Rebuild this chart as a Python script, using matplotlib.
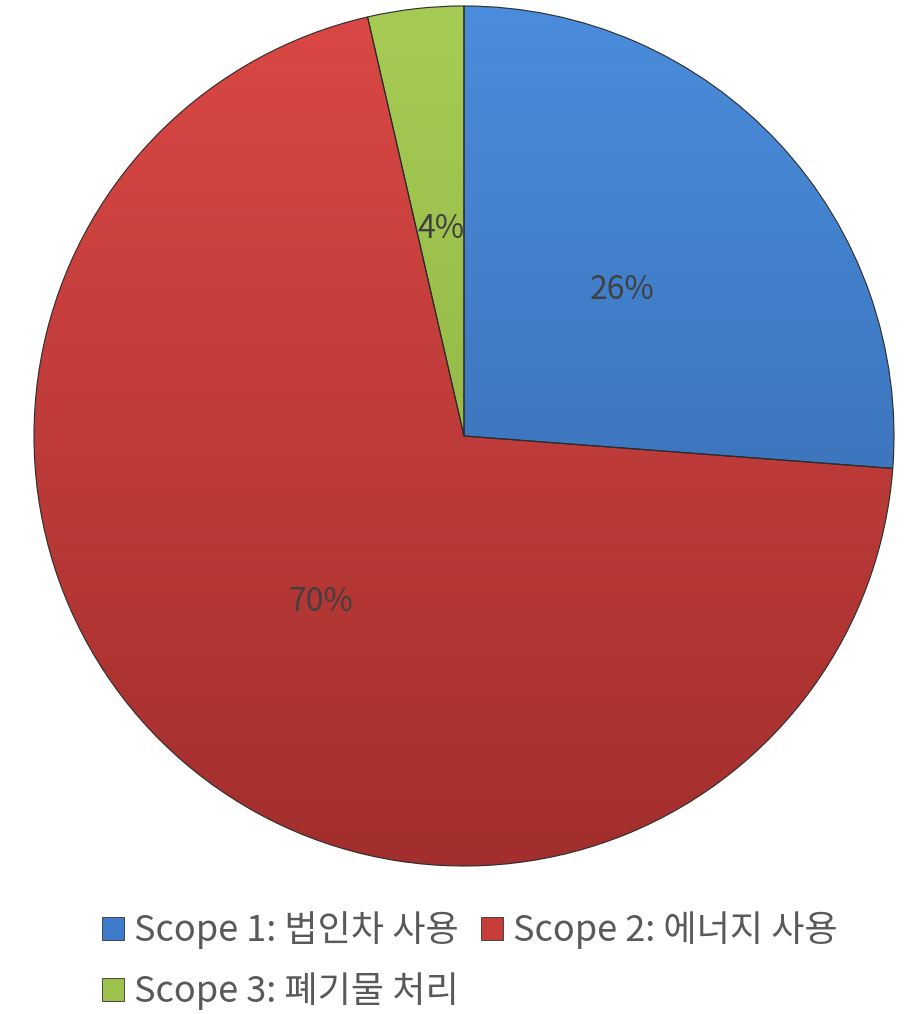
import matplotlib.pyplot as plt
import numpy as np
from matplotlib.patches import Patch
from matplotlib.colors import LinearSegmentedColormap

plt.rcParams['font.family'] = ['Noto Sans CJK KR', 'DejaVu Sans']

labels = ["Scope 1: 법인차 사용", "Scope 2: 에너지 사용", "Scope 3: 폐기물 처리"]
values = [26.2, 70.2, 3.6]
pct_labels = ["26%", "70%", "4%"]
colors = ["#3F7BCB", "#C73D3A", "#9DC24C"]
# light (top) / dark (bottom) shades for the gradient fill
tops = ["#4A8DDC", "#DA4845", "#A6CC55"]
bottoms = ["#3262A5", "#A22F2D", "#85A83A"]

fig = plt.figure(figsize=(9.16, 10.14), dpi=100)
W, H = 916, 1014
cx, cy, r = 464, 436, 430
ax = fig.add_axes([(cx - r) / W, (H - cy - r) / H, 2 * r / W, 2 * r / H])

wedges, _ = ax.pie(values, colors=colors, startangle=90, counterclock=False,
                   radius=1, wedgeprops=dict(edgecolor="#2b2b2b", linewidth=0.8))

# vertical gradient clipped to each wedge
grad = np.linspace(0, 1, 256).reshape(-1, 1)
for w, t, b in zip(wedges, tops, bottoms):
    cmap = LinearSegmentedColormap.from_list("g", [t, b])
    im = ax.imshow(grad, cmap=cmap, extent=(-1, 1, -1, 1), origin="upper",
                   aspect="auto", zorder=w.get_zorder() + 0.1)
    im.set_clip_path(w)
    w.set_facecolor("none")
    w.set_zorder(w.get_zorder() + 0.2)

ax.set_xlim(-1, 1)
ax.set_ylim(-1, 1)
ax.set_aspect("equal")
ax.axis("off")

# label positions (fraction of radius along the mid-angle)
label_r = [0.50, 0.51, 0.485]
for w, txt, lr in zip(wedges, pct_labels, label_r):
    ang = np.deg2rad((w.theta1 + w.theta2) / 2)
    ax.text(lr * np.cos(ang), lr * np.sin(ang), txt, ha="center", va="center",
            fontsize=23, color="#404040", zorder=10)

handles = [Patch(facecolor=c, edgecolor="#333333", linewidth=0.6) for c in colors]
order = [0, 2, 1]
leg = fig.legend([handles[i] for i in order], [labels[i] for i in order],
                 ncol=2, loc="upper left", bbox_to_anchor=(102 / W, 1 - 911 / H),
                 frameon=False, fontsize=26, handlelength=0.6, handleheight=0.6,
                 handletextpad=0.3, columnspacing=0.6, labelspacing=0.66,
                 labelcolor="#595959", borderaxespad=0, borderpad=0)

fig.savefig("out.png", dpi=100)
